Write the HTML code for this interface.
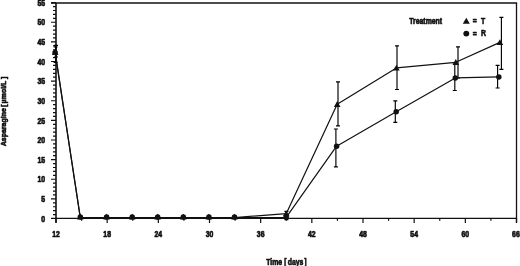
<!DOCTYPE html><html><head><meta charset="utf-8"><title>Asparagine chart</title><style>html,body{margin:0;padding:0;background:#fff}svg{display:block}text{font-family:"Liberation Sans",sans-serif;font-weight:bold;fill:#111;stroke:#111;stroke-width:0.6px;vector-effect:non-scaling-stroke;stroke-linejoin:round}</style></head><body>
<svg width="520" height="266" viewBox="0 0 520 266">
<rect width="520" height="266" fill="#fff"/>
<g stroke="#111" fill="none">
<path d="M51.0 3.0 H517.1" stroke-width="1.3"/>
<path d="M516.5 3.0 V222.7" stroke-width="1.3"/>
<path d="M56.0 3.0 V222.7" stroke-width="1.6"/>
<path d="M51.0 218.35 H517.1" stroke-width="1.1"/>
<path d="M51.0 218.50 H56.0 M53.0 214.58 H56.0 M53.0 210.65 H56.0 M53.0 206.73 H56.0 M53.0 202.80 H56.0 M51.0 198.88 H56.0 M53.0 194.95 H56.0 M53.0 191.03 H56.0 M53.0 187.10 H56.0 M53.0 183.18 H56.0 M51.0 179.25 H56.0 M53.0 175.33 H56.0 M53.0 171.41 H56.0 M53.0 167.48 H56.0 M53.0 163.56 H56.0 M51.0 159.63 H56.0 M53.0 155.71 H56.0 M53.0 151.78 H56.0 M53.0 147.86 H56.0 M53.0 143.93 H56.0 M51.0 140.01 H56.0 M53.0 136.08 H56.0 M53.0 132.16 H56.0 M53.0 128.24 H56.0 M53.0 124.31 H56.0 M51.0 120.39 H56.0 M53.0 116.46 H56.0 M53.0 112.54 H56.0 M53.0 108.61 H56.0 M53.0 104.69 H56.0 M51.0 100.76 H56.0 M53.0 96.84 H56.0 M53.0 92.91 H56.0 M53.0 88.99 H56.0 M53.0 85.07 H56.0 M51.0 81.14 H56.0 M53.0 77.22 H56.0 M53.0 73.29 H56.0 M53.0 69.37 H56.0 M53.0 65.44 H56.0 M51.0 61.52 H56.0 M53.0 57.59 H56.0 M53.0 53.67 H56.0 M53.0 49.74 H56.0 M53.0 45.82 H56.0 M51.0 41.90 H56.0 M53.0 37.97 H56.0 M53.0 34.05 H56.0 M53.0 30.12 H56.0 M53.0 26.20 H56.0 M51.0 22.27 H56.0 M53.0 18.35 H56.0 M53.0 14.42 H56.0 M53.0 10.50 H56.0 M53.0 6.57 H56.0 M51.0 2.65 H56.0" stroke-width="1.2"/>
<path d="M56.00 218.5 V223.0 M81.58 218.5 V220.7 M107.17 218.5 V223.0 M132.75 218.5 V220.7 M158.33 218.5 V223.0 M183.92 218.5 V220.7 M209.50 218.5 V223.0 M235.08 218.5 V220.7 M260.67 218.5 V223.0 M286.25 218.5 V220.7 M311.83 218.5 V223.0 M337.42 218.5 V220.7 M363.00 218.5 V223.0 M388.58 218.5 V220.7 M414.17 218.5 V223.0 M439.75 218.5 V220.7 M465.33 218.5 V223.0 M490.92 218.5 V220.7 M516.50 218.5 V223.0" stroke-width="1.2"/>
</g>
<text transform="translate(45.20 221.70) scale(0.84 1)" text-anchor="end" font-size="8.2">0</text>
<text transform="translate(45.20 202.06) scale(0.84 1)" text-anchor="end" font-size="8.2">5</text>
<text transform="translate(45.20 182.42) scale(0.84 1)" text-anchor="end" font-size="8.2">10</text>
<text transform="translate(45.20 162.78) scale(0.84 1)" text-anchor="end" font-size="8.2">15</text>
<text transform="translate(45.20 143.14) scale(0.84 1)" text-anchor="end" font-size="8.2">20</text>
<text transform="translate(45.20 123.50) scale(0.84 1)" text-anchor="end" font-size="8.2">25</text>
<text transform="translate(45.20 103.85) scale(0.84 1)" text-anchor="end" font-size="8.2">30</text>
<text transform="translate(45.20 84.21) scale(0.84 1)" text-anchor="end" font-size="8.2">35</text>
<text transform="translate(45.20 64.57) scale(0.84 1)" text-anchor="end" font-size="8.2">40</text>
<text transform="translate(45.20 44.93) scale(0.84 1)" text-anchor="end" font-size="8.2">45</text>
<text transform="translate(45.20 25.29) scale(0.84 1)" text-anchor="end" font-size="8.2">50</text>
<text transform="translate(45.20 5.65) scale(0.84 1)" text-anchor="end" font-size="8.2">55</text>
<text transform="translate(56.00 236.80) scale(0.84 1)" text-anchor="middle" font-size="8.2">12</text>
<text transform="translate(107.17 236.80) scale(0.84 1)" text-anchor="middle" font-size="8.2">18</text>
<text transform="translate(158.33 236.80) scale(0.84 1)" text-anchor="middle" font-size="8.2">24</text>
<text transform="translate(209.50 236.80) scale(0.84 1)" text-anchor="middle" font-size="8.2">30</text>
<text transform="translate(260.67 236.80) scale(0.84 1)" text-anchor="middle" font-size="8.2">36</text>
<text transform="translate(311.83 236.80) scale(0.84 1)" text-anchor="middle" font-size="8.2">42</text>
<text transform="translate(363.00 236.80) scale(0.84 1)" text-anchor="middle" font-size="8.2">48</text>
<text transform="translate(414.17 236.80) scale(0.84 1)" text-anchor="middle" font-size="8.2">54</text>
<text transform="translate(465.33 236.80) scale(0.84 1)" text-anchor="middle" font-size="8.2">60</text>
<text transform="translate(515.90 236.80) scale(0.84 1)" text-anchor="middle" font-size="8.2">66</text>
<text transform="translate(286.30 264.80) scale(0.84 1)" text-anchor="middle" font-size="8.2">Time <tspan dx="0.3">[</tspan><tspan dx="1.4">days</tspan><tspan dx="0.9">]</tspan></text>
<text transform="translate(6.10 111.50) rotate(-90) scale(1.0 1)" text-anchor="middle" font-size="7.0">Asparagine <tspan dx="-0.5">[</tspan><tspan dx="1.0">µmol/L</tspan><tspan dx="1.6">]</tspan></text>
<text transform="translate(409.20 23.90) scale(0.84 1)" text-anchor="start" font-size="8.2">Treatment</text>
<text transform="translate(472.70 24.40) scale(0.84 1)" text-anchor="start" font-size="8.2">=<tspan dx="5.2" dy="-0.7">T</tspan></text>
<text transform="translate(472.70 36.60) scale(0.84 1)" text-anchor="start" font-size="8.2">=<tspan dx="5.2" dy="-0.7">R</tspan></text>
<g stroke="#000" stroke-width="1.15" fill="none">
<path d="M56.0 45.3 V57.0 M54.0 45.3 H58.0 M54.0 57.0 H58.0"/>
<path d="M286.4 211.3 V219.6 M284.4 211.3 H288.4 M284.4 219.6 H288.4"/>
<path d="M338.0 81.8 V125.8 M336.0 81.8 H340.0 M336.0 125.8 H340.0"/>
<path d="M397.0 45.8 V89.5 M395.0 45.8 H399.0 M395.0 89.5 H399.0"/>
<path d="M458.0 46.8 V78.0 M456.0 46.8 H460.0 M456.0 78.0 H460.0"/>
<path d="M501.4 17.4 V69.3 M499.4 17.4 H503.4 M499.4 69.3 H503.4"/>
<path d="M55.6 47.0 V62.3 M53.6 47.0 H57.6 M53.6 62.3 H57.6"/>
<path d="M335.9 129.0 V166.9 M333.9 129.0 H337.9 M333.9 166.9 H337.9"/>
<path d="M395.3 100.8 V122.4 M393.3 100.8 H397.3 M393.3 122.4 H397.3"/>
<path d="M454.8 63.0 V90.5 M452.8 63.0 H456.8 M452.8 90.5 H456.8"/>
<path d="M497.6 65.3 V88.0 M495.6 65.3 H499.6 M495.6 88.0 H499.6"/>
</g>
<g stroke="#111" stroke-width="1.2" fill="none" stroke-linejoin="round">
<polyline points="55.2,52.3 80.3,217.5 106.6,217.5 132.2,217.5 157.7,217.5 183.3,217.5 208.9,217.5 234.5,217.5 286.2,213.7 337.2,104.3 396.4,67.9 455.8,62.3 499.9,42.4"/>
<polyline points="55.1,52.5 80.3,217.6 106.6,217.6 132.2,217.6 157.7,217.6 183.3,217.6 208.9,217.6 234.5,217.6 286.2,217.4 336.6,146.2 396.2,111.8 455.3,77.9 498.8,76.9"/>
</g>
<g fill="#111">
<path d="M55.2 49.1 L58.5 54.9 H51.9 Z"/>
<path d="M80.3 213.8 L83.6 219.6 H77.0 Z"/>
<path d="M106.6 213.8 L109.9 219.6 H103.3 Z"/>
<path d="M132.2 213.8 L135.5 219.6 H128.8 Z"/>
<path d="M157.7 213.8 L161.0 219.6 H154.4 Z"/>
<path d="M183.3 213.8 L186.6 219.6 H180.0 Z"/>
<path d="M208.9 213.8 L212.2 219.6 H205.6 Z"/>
<path d="M234.5 213.8 L237.8 219.6 H231.2 Z"/>
<path d="M286.2 210.5 L289.5 216.3 H282.9 Z"/>
<path d="M337.2 101.1 L340.5 106.9 H333.9 Z"/>
<path d="M396.4 64.7 L399.7 70.5 H393.1 Z"/>
<path d="M455.8 59.1 L459.1 64.9 H452.5 Z"/>
<path d="M499.9 39.2 L503.2 45.0 H496.6 Z"/>
<circle cx="55.1" cy="52.5" r="2.75"/>
<circle cx="80.3" cy="217.0" r="2.75"/>
<circle cx="106.6" cy="217.0" r="2.75"/>
<circle cx="132.2" cy="217.0" r="2.75"/>
<circle cx="157.7" cy="217.0" r="2.75"/>
<circle cx="183.3" cy="217.0" r="2.75"/>
<circle cx="208.9" cy="217.0" r="2.75"/>
<circle cx="234.5" cy="217.0" r="2.75"/>
<circle cx="286.2" cy="216.8" r="2.75"/>
<circle cx="336.6" cy="146.2" r="2.75"/>
<circle cx="396.2" cy="111.8" r="2.75"/>
<circle cx="455.3" cy="77.9" r="2.75"/>
<circle cx="498.8" cy="76.9" r="2.75"/>
<path d="M466.3 17.8 L469.8 23.8 H462.8 Z"/>
<circle cx="466.3" cy="33.6" r="2.95"/>
</g>
</svg></body></html>
